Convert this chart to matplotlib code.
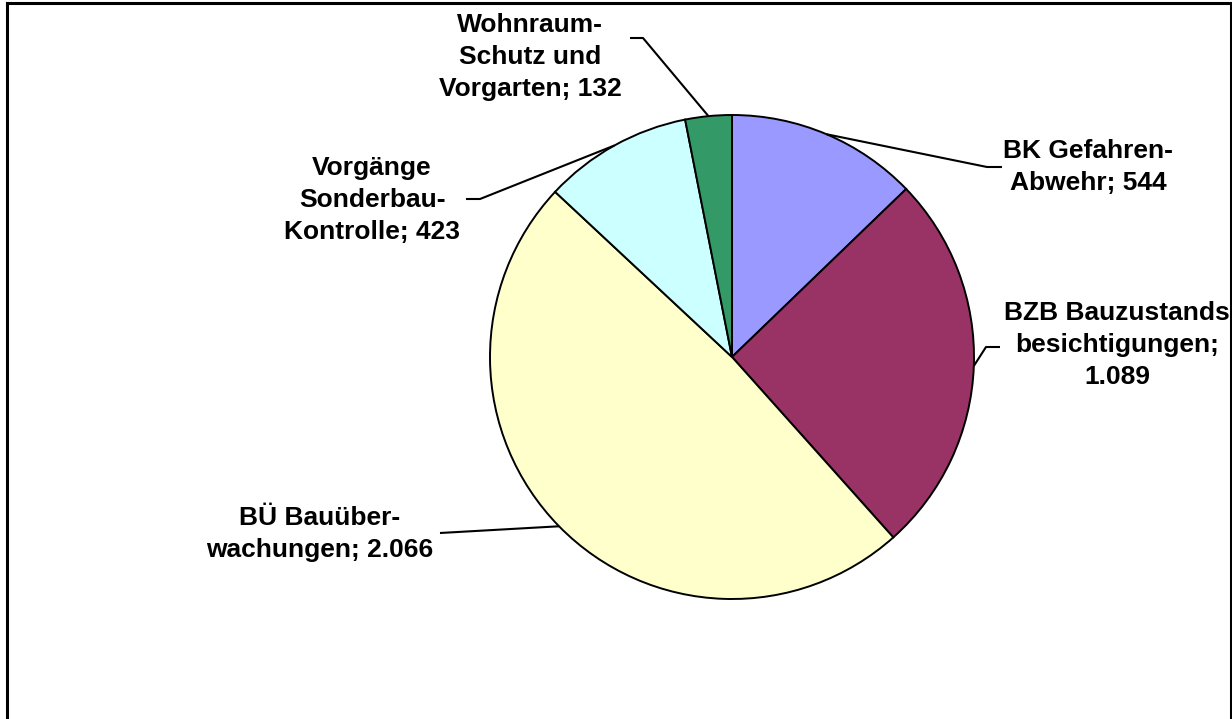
import numpy as np
import matplotlib
matplotlib.use("Agg")
import matplotlib.pyplot as plt
from matplotlib.lines import Line2D

# ---- data ----
categories = ["BK Gefahren-\nAbwehr", "BZB Bauzustands\nbesichtigungen;", "BÜ Bauüber-\nwachungen",
              "Vorgänge\nSonderbau-\nKontrolle", "Wohnraum-\nSchutz und\nVorgarten"]
values = [544, 1089, 2066, 423, 132]
value_labels = ["544", "1.089", "2.066", "423", "132"]
colors = ["#9999FF", "#993366", "#FFFFCC", "#CCFFFF", "#339966"]

label_texts = ["BK Gefahren-\nAbwehr; 544",
               "BZB Bauzustands\nbesichtigungen;\n1.089",
               "BÜ Bauüber-\nwachungen; 2.066",
               "Vorgänge\nSonderbau-\nKontrolle; 423",
               "Wohnraum-\nSchutz und\nVorgarten; 132"]

# ---- layout (pixels, top-down) ----
W, H = 1232, 719
label_pos = [(1088, 167), (1117, 345), (320, 534), (372, 200), (530, 57)]
leader_pts = [[(1002, 167), (987, 167)],
              [(1000, 347), (986, 347)],
              [(440, 533)],
              [(466, 199), (480, 199)],
              [(630, 38), (643, 38)]]

fig = plt.figure(figsize=(W / 100, H / 100), dpi=100)
ax = fig.add_axes([0, 0, 1, 1])
cx, cy, r = 732, H - 357, 242
wedges, _ = ax.pie(values, colors=colors, startangle=90, counterclock=False,
                   center=(cx, cy), radius=r,
                   wedgeprops=dict(edgecolor="black", linewidth=1.4))
ax.set_xlim(0, W)
ax.set_ylim(0, H)
ax.set_aspect("equal")
ax.axis("off")

for w, txt, (lx, ly), pts in zip(wedges, label_texts, label_pos, leader_pts):
    ang = np.deg2rad((w.theta1 + w.theta2) / 2)
    ex, ey = cx + r * np.cos(ang), cy + r * np.sin(ang)
    xs = [p[0] for p in pts] + [ex]
    ys = [H - p[1] for p in pts] + [ey]
    ax.plot(xs, ys, color="black", lw=1.5, solid_capstyle="butt")
    ax.text(lx, H - ly, txt, ha="center", va="center", multialignment="center",
            fontsize=19, fontweight="bold", family="Liberation Sans",
            linespacing=1.42)

# frame
lw = 2.2
fig.add_artist(Line2D([7 / W, 7 / W], [0, 1 - 3 / H], transform=fig.transFigure, color="black", lw=lw))
fig.add_artist(Line2D([7 / W, 1230.5 / W], [1 - 3 / H, 1 - 3 / H], transform=fig.transFigure, color="black", lw=lw))
fig.add_artist(Line2D([1230.5 / W, 1230.5 / W], [0, 1 - 3 / H], transform=fig.transFigure, color="black", lw=lw))

fig.savefig("out.png", dpi=100, facecolor="white")
